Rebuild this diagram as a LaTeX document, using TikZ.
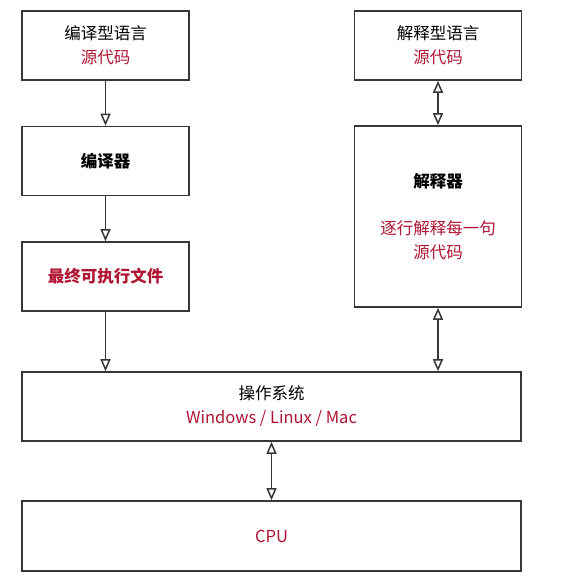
\documentclass[tikz,border=0pt]{standalone}
\usepackage{fontspec}
\setmainfont{Noto Sans CJK SC}
\usepackage{tikz}
\usetikzlibrary{arrows.meta,positioning}
\definecolor{srcred}{RGB}{176,22,52}
\definecolor{boxline}{RGB}{55,55,55}
\tikzset{
  lyblock/.style={
    rectangle, draw=boxline, fill=white, line width=1.6pt,
    minimum width=167pt, minimum height=69pt, inner sep=2pt,
    align=center, font=\fontsize{16.5}{24}\selectfont
  },
  lywide/.style={lyblock, minimum width=499pt},
  lyedge/.style={-{Triangle[open,length=12pt,width=10pt]},line width=1.5pt,draw=boxline},
  lyboth/.style={{Triangle[open,length=12pt,width=10pt]}-{Triangle[open,length=12pt,width=10pt]},line width=1.5pt,draw=boxline},
  lyred/.style={text=srcred}
}
\begin{document}
\begin{tikzpicture}[x=1pt,y=-1pt]
\useasboundingbox (0,0) rectangle (567,585);
% compiled branch
\node[lyblock] (srcc) at (105.5,45.5) {编译型语言\\\textcolor{srcred}{源代码}};
\node[lyblock] (comp) at (105.5,161) {\textbf{编译器}};
\node[lyblock] (exe) at (105.5,276.5) {\textbf{\textcolor{srcred}{最终可执行文件}}};
% interpreted branch
\node[lyblock] (srci) at (438,45.5) {解释型语言\\\textcolor{srcred}{源代码}};
\node[lyblock,minimum height=181pt] (interp) at (438,216.5)
  {\textbf{解释器}\\[23pt]\textcolor{srcred}{逐行解释每一句}\\\textcolor{srcred}{源代码}};
% system and hardware
\node[lywide] (os) at (271.5,406.5) {操作系统\\\textcolor{srcred}{Windows / Linux / Mac}};
\node[lywide,minimum height=70pt] (cpu) at (271.5,536) {\textcolor{srcred}{CPU}};
\draw[lyedge] (srcc) -- (comp);
\draw[lyedge] (comp) -- (exe);
\draw[lyedge] (exe.south) -- (exe.south |- os.north);
\draw[lyboth] (srci) -- (interp);
\draw[lyboth] (interp.south) -- (interp.south |- os.north);
\draw[lyboth] (os.south) -- (cpu.north);
\end{tikzpicture}
\end{document}
